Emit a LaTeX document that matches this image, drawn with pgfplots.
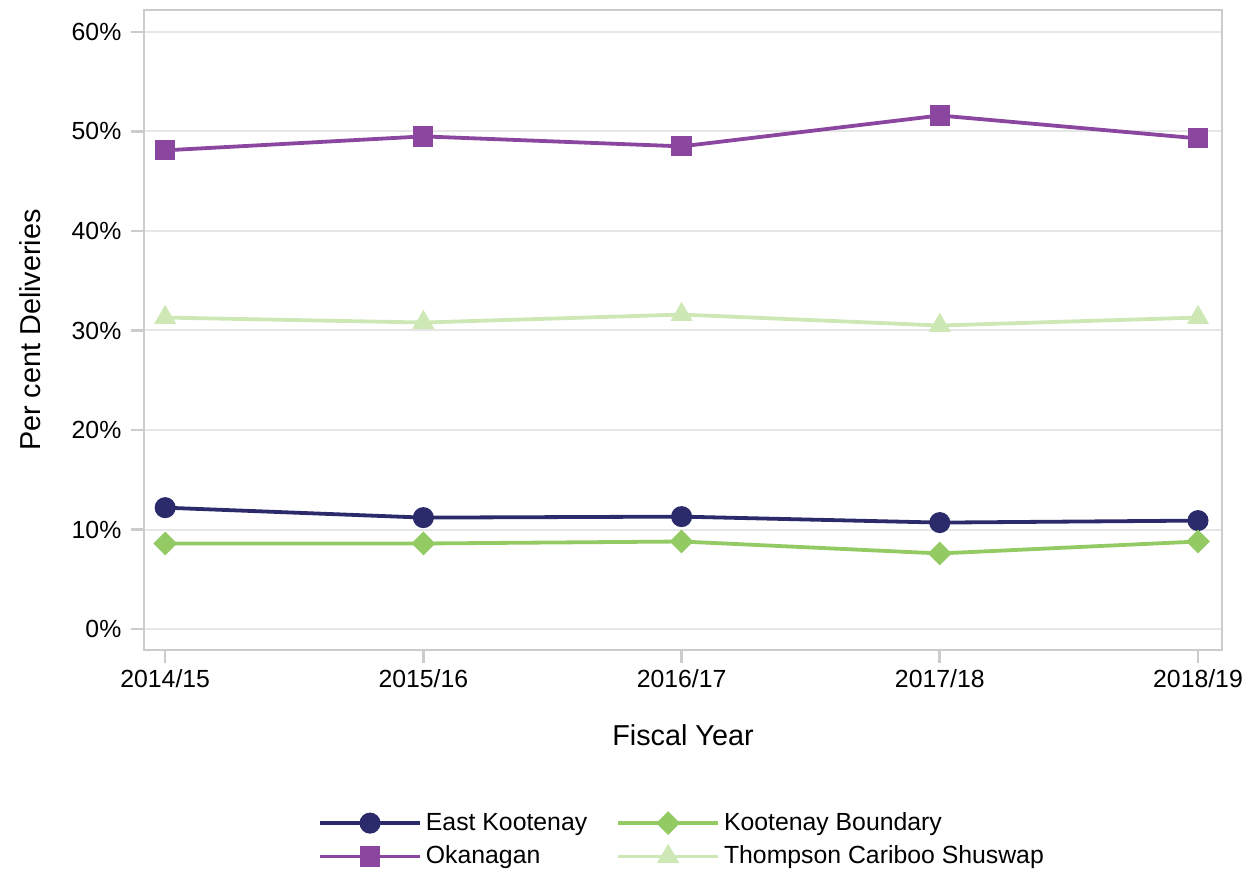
\documentclass[border=0pt]{standalone}
\usepackage{pgfplots}
\pgfplotsset{compat=1.18}
\usepackage{fontspec}
\setmainfont{Liberation Sans}

\definecolor{ekblue}{HTML}{2B2A6B}
\definecolor{okpurple}{HTML}{8B47A0}
\definecolor{kbgreen}{HTML}{93CA63}
\definecolor{tcsgreen}{HTML}{CDE8B5}
\definecolor{axisgray}{HTML}{CCCCCC}
\definecolor{gridgray}{HTML}{E6E6E6}

\begin{document}
\begin{tikzpicture}
\begin{axis}[
  scale only axis,
  width=539pt, height=320pt,
  xmin=-0.082, xmax=4.093,
  ymin=-2.1, ymax=62.2,
  xtick={0,1,2,3,4},
  xticklabels={2014/15,2015/16,2016/17,2017/18,2018/19},
  ytick={0,10,20,30,40,50,60},
  yticklabel={\pgfmathprintnumber{\tick}\%},
  /pgf/number format/assume math mode=true,
  tick label style={font=\fontsize{12.4}{14}\selectfont, black},
  yticklabel style={xshift=-1.5pt},
  label style={font=\fontsize{14.4}{17}\selectfont},
  xlabel={Fiscal Year},
  ylabel={Per cent Deliveries},
  xlabel style={at={(axis description cs:0.5,-0.133)}, anchor=center},
  ylabel style={at={(axis description cs:-0.1058,0.5)}, anchor=center},
  axis line style={axisgray, line width=1.3pt},
  tick style={axisgray, line width=1.3pt},
  major tick length=6.3pt,
  tick align=outside,
  xtick pos=bottom, ytick pos=left,
  ymajorgrids,
  grid style={gridgray, line width=1pt},
  every axis plot/.append style={line width=1.9pt},
  legend columns=2,
  legend style={draw=none, fill=none, at={(0.5,-0.241)}, anchor=north,
    font=\fontsize{12.4}{15}\selectfont,
    /tikz/every even column/.append style={column sep=12.5pt},
    /tikz/every odd column/.append style={column sep=0pt},
    row sep=2.2pt},
  legend cell align=left,
  legend image code/.code={
    \draw[#1, mark=none] (-2pt,0pt) -- (48pt,0pt);
    \draw[#1, only marks] plot coordinates {(23pt,0pt)};
  },
]
\coordinate (sw) at (rel axis cs:0,0);
\coordinate (ne) at (rel axis cs:1,1);
\addplot[ekblue, mark=*, mark size=4.3pt] coordinates {
  (0,12.2) (1,11.2) (2,11.3) (3,10.7) (4,10.9)
};
\addlegendentry{East Kootenay}
\addplot[kbgreen, mark=square*, mark size=3.25pt, mark options={rotate=45}] coordinates {
  (0,8.6) (1,8.6) (2,8.8) (3,7.6) (4,8.8)
};
\addlegendentry{Kootenay Boundary}
\addplot[okpurple, mark=square*, mark size=4.1pt] coordinates {
  (0,48.1) (1,49.5) (2,48.5) (3,51.6) (4,49.3)
};
\addlegendentry{Okanagan}
\addplot[tcsgreen, mark=triangle*, mark size=4.5pt] coordinates {
  (0,31.3) (1,30.8) (2,31.6) (3,30.5) (4,31.3)
};
\addlegendentry{Thompson Cariboo Shuswap}
\end{axis}
\pgfresetboundingbox
\path ([xshift=-72pt,yshift=-110.5pt]sw) rectangle ([xshift=17pt,yshift=5pt]ne);
\end{tikzpicture}
\end{document}
